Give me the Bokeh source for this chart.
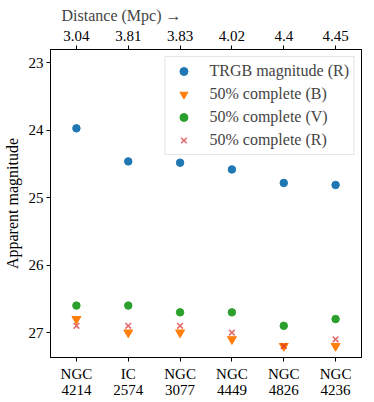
from bokeh.plotting import figure
from bokeh.models import FactorRange, Range1d, CategoricalAxis
from bokeh.embed import file_html
from bokeh.resources import INLINE

galaxies = ["NGC\n4214", "IC\n2574", "NGC\n3077", "NGC\n4449", "NGC\n4826", "NGC\n4236"]
distances = ["3.04", "3.81", "3.83", "4.02", "4.4", "4.45"]
trgb_R = [23.97, 24.46, 24.48, 24.58, 24.78, 24.81]
comp_B = [26.8, 27.0, 27.0, 27.1, 27.2, 27.2]
comp_V = [26.6, 26.6, 26.7, 26.7, 26.9, 26.8]
comp_R = [26.9, 26.9, 26.9, 27.0, 27.2, 27.1]

FONT = "Liberation Serif"
FS = "15px"

p = figure(frame_width=311, frame_height=308,
           x_range=FactorRange(factors=galaxies, range_padding=0),
           y_range=Range1d(27.37, 22.8),
           output_backend="svg", toolbar_location=None,
           title="Distance (Mpc) \u2192",
           min_border_left=43, min_border_right=4,
           min_border_top=40, min_border_bottom=36)

p.extra_x_ranges = {"dist": FactorRange(factors=distances, range_padding=0)}
top = CategoricalAxis(x_range_name="dist")
p.add_layout(top, "above")
bottom = p.below[0]

p.title.align = "left"
p.title.offset = 11
p.title.text_font = FONT
p.title.text_font_size = "16px"
p.title.text_font_style = "normal"
p.title.standoff = 8

p.xgrid.visible = False
p.ygrid.visible = False
p.outline_line_color = "black"
p.outline_line_alpha = 1

p.yaxis.ticker = [23, 24, 25, 26, 27]
p.yaxis.axis_label = "Apparent magnitude"

for ax in [bottom, top, p.left[0]]:
    ax.major_tick_out = 4
    ax.major_tick_in = 0
    ax.minor_tick_out = 0
    ax.minor_tick_in = 0
    ax.axis_line_color = "black"
    ax.major_tick_line_color = "black"
    ax.major_label_text_font = FONT
    ax.major_label_text_font_size = FS
    ax.major_label_text_color = "black"
    ax.axis_label_text_font = FONT
    ax.axis_label_text_font_size = "16px"
    ax.axis_label_text_font_style = "normal"
    ax.axis_label_text_color = "black"
    ax.major_label_standoff = 3

top.major_label_standoff = 5
bottom.major_label_text_line_height = 1.0
bottom.major_label_standoff = 4

p.scatter(galaxies, trgb_R, marker="circle", size=7.5, color="#1f77b4",
          legend_label="TRGB magnitude (R)")
p.scatter(galaxies, comp_B, marker="inverted_triangle", size=9, color="#ff7f0e",
          legend_label="50% complete (B)")
p.scatter(galaxies, comp_V, marker="circle", size=7.5, color="#2ca02c",
          legend_label="50% complete (V)")
p.scatter(galaxies, comp_R, marker="x", size=8, line_color="#d62728", line_alpha=0.7,
          line_width=1.5, legend_label="50% complete (R)")

lg = p.legend[0]
lg.location = "top_right"
lg.margin = 7
lg.padding = 4
lg.spacing = 3
lg.label_height = 20
lg.glyph_height = 20
lg.glyph_width = 28
lg.label_standoff = 12
lg.label_text_font = FONT
lg.label_text_font_size = "16px"
lg.border_line_color = "#cccccc"
lg.background_fill_alpha = 0.8

open("out.html", "w").write(file_html(p, INLINE))
